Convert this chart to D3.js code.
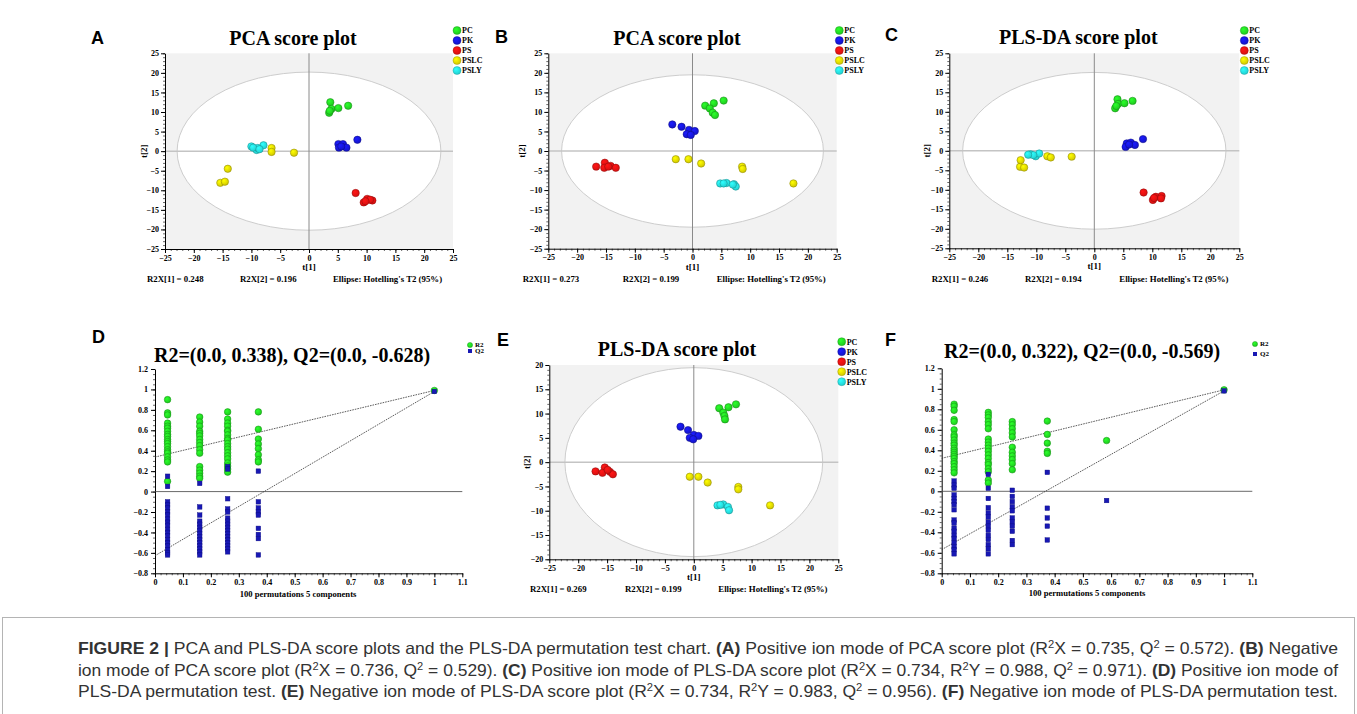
<!DOCTYPE html>
<html>
<head>
<meta charset="utf-8">
<script src="https://cdn.jsdelivr.net/npm/d3@7"></script>
<style>
  body { margin: 0; background: #fff; }
  svg { display: block; }
</style>
</head>
<body>
<svg id="fig" width="1357" height="714"></svg>
<script>
// ---- data ----
const groups = ["PC", "PK", "PS", "PSLC", "PSLY"];

// A: PCA, positive ion mode
const aPC   = [[3.7,12.5],[3.9,10.8],[5.1,11.0],[6.8,11.6],[3.5,9.8],[3.6,10.3]];
const aPK   = [[5.1,1.8],[5.2,0.9],[5.9,1.8],[6.5,0.9],[8.4,2.9],[5.6,1.2]];
const aPS   = [[8.1,-10.7],[9.5,-13.1],[10.1,-12.2],[11.0,-12.6],[10.6,-12.4],[9.8,-12.8]];
const aPSLC = [[-14.1,-4.5],[-15.4,-8.1],[-14.6,-7.8],[-6.5,0.8],[-6.5,-0.2],[-2.6,-0.4]];
const aPSLY = [[-10.0,1.2],[-9.1,0.3],[-7.9,1.5],[-8.9,0.8],[-9.7,0.9],[-8.6,0.5]];

// B: PCA, negative ion mode
const bPC   = [[2.2,11.6],[3.7,12.2],[5.4,12.9],[3.0,10.9],[3.5,9.8],[3.9,9.2]];
const bPK   = [[-3.5,6.8],[-1.9,6.2],[-0.6,5.4],[0.4,5.1],[-1.0,4.3],[-0.3,4.1]];
const bPS   = [[-16.7,-4.0],[-15.2,-3.0],[-15.3,-4.3],[-14.2,-3.8],[-13.3,-4.3],[-14.6,-4.0]];
const bPSLC = [[-2.9,-2.1],[-0.7,-2.1],[1.5,-3.2],[8.6,-4.0],[8.7,-4.6],[17.5,-8.3]];
const bPSLY = [[4.8,-8.3],[5.9,-8.2],[7.2,-8.5],[7.5,-9.1],[5.4,-8.3],[7.0,-8.6]];

// C: PLS-DA, positive ion mode
const cPC   = [[4.0,13.2],[3.6,10.9],[4.1,12.0],[5.2,12.2],[6.6,12.8],[3.8,11.5]];
const cPK   = [[5.6,1.9],[5.4,1.0],[6.3,2.1],[7.0,1.5],[8.4,3.0],[6.0,1.6]];
const cPS   = [[8.5,-10.7],[10.1,-12.6],[10.6,-11.8],[11.6,-11.6],[11.5,-12.2],[10.3,-12.1]];
const cPSLC = [[-12.8,-4.1],[-12.1,-4.3],[-12.7,-2.4],[-8.1,-1.4],[-7.5,-1.7],[-3.9,-1.5]];
const cPSLY = [[-11.0,-0.9],[-10.1,-1.4],[-9.5,-0.7],[-10.5,-1.1],[-11.4,-1.0]];

// E: PLS-DA, negative ion mode
const ePC   = [[4.4,11.1],[6.0,11.3],[7.3,11.9],[5.1,10.2],[5.3,9.5],[5.4,8.8]];
const ePK   = [[-2.3,7.3],[-1.0,6.6],[0.0,5.6],[0.8,5.4],[-0.7,5.0],[-0.1,4.7]];
const ePS   = [[-17.0,-1.9],[-15.4,-1.1],[-15.8,-2.2],[-14.5,-2.0],[-14.0,-2.5],[-14.9,-1.6]];
const ePSLC = [[-0.7,-3.0],[0.8,-3.0],[2.4,-4.2],[7.7,-5.1],[7.7,-5.6],[13.2,-8.9]];
const ePSLY = [[4.1,-8.9],[5.1,-8.7],[5.9,-9.2],[6.1,-9.9],[4.6,-8.8]];

// D: permutation test, positive ion mode
const dPermX = [0.045, 0.16, 0.26, 0.37];
const dR2 = [
  [0.9,0.77,0.75,0.67,0.64,0.62,0.59,0.56,0.54,0.51,0.49,0.47,0.44,0.41,0.39,0.375,0.34,0.31,0.29,0.1],
  [0.73,0.68,0.64,0.59,0.57,0.545,0.51,0.48,0.45,0.41,0.375,0.245,0.21,0.18,0.15,0.13],
  [0.78,0.71,0.67,0.64,0.6,0.59,0.555,0.52,0.505,0.47,0.44,0.415,0.38,0.35,0.32,0.28,0.25,0.22,0.19],
  [0.78,0.61,0.515,0.465,0.42,0.36,0.31,0.29]
];
const dQ2 = [
  [0.15,0.05,-0.1,-0.13,-0.16,-0.2,-0.23,-0.27,-0.3,-0.33,-0.37,-0.4,-0.43,-0.47,-0.5,-0.53,-0.57,-0.6,-0.62],
  [0.08,-0.15,-0.23,-0.29,-0.32,-0.35,-0.38,-0.41,-0.44,-0.47,-0.5,-0.53,-0.56,-0.59,-0.62],
  [0.245,0.22,-0.07,-0.17,-0.2,-0.26,-0.29,-0.32,-0.35,-0.38,-0.41,-0.44,-0.47,-0.5,-0.53,-0.56,-0.59],
  [0.2,-0.1,-0.16,-0.2,-0.23,-0.36,-0.42,-0.46,-0.62]
];
const dModel = { r2: 0.99, q2: 0.98, r2Int: 0.338, q2Int: -0.628 };

// F: permutation test, negative ion mode
const fPermX = [0.044, 0.165, 0.25, 0.374, 0.584];
const fR2 = [
  [0.85,0.83,0.79,0.7,0.68,0.6,0.55,0.53,0.5,0.47,0.45,0.42,0.4,0.38,0.36,0.34,0.32,0.29,0.27,0.24,0.21,0.18],
  [0.77,0.745,0.72,0.68,0.65,0.61,0.51,0.48,0.45,0.42,0.39,0.355,0.32,0.28,0.26,0.22,0.19,0.11,0.08],
  [0.68,0.65,0.61,0.57,0.53,0.43,0.38,0.345,0.31,0.27,0.21],
  [0.685,0.555,0.47,0.39,0.37],
  [0.495]
];
const fQ2 = [
  [0.1,0.06,0.03,-0.035,-0.07,-0.1,-0.13,-0.18,-0.28,-0.31,-0.36,-0.39,-0.43,-0.46,-0.5,-0.54,-0.57,-0.61],
  [0.165,0.03,-0.07,-0.16,-0.21,-0.25,-0.3,-0.34,-0.38,-0.43,-0.47,-0.52,-0.56,-0.61],
  [0.01,-0.05,-0.1,-0.15,-0.19,-0.26,-0.3,-0.34,-0.39,-0.48,-0.52],
  [0.185,-0.165,-0.26,-0.34,-0.475],
  [-0.09]
];
const fModel = { r2: 0.99, q2: 0.98, r2Int: 0.322, q2Int: -0.569 };

const scoreXTicks = d3.range(-25, 26, 5);
const permXTicks = d3.range(0, 1.101, 0.1).map(v => +v.toFixed(1));
const permYTicks = d3.range(-0.8, 1.201, 0.2).map(v => +v.toFixed(1));

// caption lines: [text, style]  n = normal, b = bold, s = superscript
const captionLines = [
  [["FIGURE 2 | ","b"],["PCA and PLS-DA score plots and the PLS-DA permutation test chart. ","n"],["(A)","b"],[" Positive ion mode of PCA score plot (R","n"],["2","s"],["X = 0.735, Q","n"],["2","s"],[" = 0.572). ","n"],["(B)","b"],[" Negative","n"]],
  [["ion mode of PCA score plot (R","n"],["2","s"],["X = 0.736, Q","n"],["2","s"],[" = 0.529). ","n"],["(C)","b"],[" Positive ion mode of PLS-DA score plot (R","n"],["2","s"],["X = 0.734, R","n"],["2","s"],["Y = 0.988, Q","n"],["2","s"],[" = 0.971). ","n"],["(D)","b"],[" Positive ion mode of","n"]],
  [["PLS-DA permutation test. ","n"],["(E)","b"],[" Negative ion mode of PLS-DA score plot (R","n"],["2","s"],["X = 0.734, R","n"],["2","s"],["Y = 0.983, Q","n"],["2","s"],[" = 0.956). ","n"],["(F)","b"],[" Negative ion mode of PLS-DA permutation test.","n"]]
];

// ---- drawing ----
const SERIF = "'Liberation Serif', 'Times New Roman', serif";
const SANS = "'Liberation Sans', Arial, sans-serif";
const groupColors = ["#1fca1f", "#1414c8", "#d81010", "#d2c800", "#22d0d0"];

const svg = d3.select("#fig");
const defs = svg.append("defs");
groupColors.forEach((c, i) => {
  const gr = defs.append("radialGradient").attr("id", "ball" + i)
    .attr("cx", "38%").attr("cy", "35%").attr("r", "65%");
  gr.append("stop").attr("offset", "0%").attr("stop-color", d3.color(c).brighter(0.9));
  gr.append("stop").attr("offset", "100%").attr("stop-color", c);
});

function styleAxis(sel, size) {
  sel.attr("font-family", SERIF).attr("font-weight", "bold").attr("font-size", size);
  sel.selectAll("text").attr("fill", "#000");
  sel.selectAll("line").attr("stroke", "#000");
  sel.select(".domain").attr("stroke", "#000");
}

function minorAxis(g, axis) {
  const m = g.append("g").call(axis);
  m.select(".domain").remove();
  m.selectAll("text").remove();
  m.selectAll("line").attr("stroke", "#000").attr("stroke-width", 0.6);
}

function scorePlot(p) {
  const g = svg.append("g");
  const x = d3.scaleLinear().domain([-25, 25]).range([p.left, p.right]);
  const y = d3.scaleLinear().domain(p.yDomain).range([p.bottom, p.top]);

  g.append("rect").attr("x", p.left).attr("y", p.top)
    .attr("width", p.right - p.left).attr("height", p.bottom - p.top)
    .attr("fill", "#f2f2f2");
  g.append("ellipse").attr("cx", x(0)).attr("cy", y(0))
    .attr("rx", x(p.ellipse[0]) - x(0)).attr("ry", y(0) - y(p.ellipse[1]))
    .attr("fill", "#fff").attr("stroke", "#cdcdcd").attr("stroke-width", 1);
  g.append("line").attr("x1", p.left).attr("x2", p.right).attr("y1", y(0)).attr("y2", y(0))
    .attr("stroke", "#c4c4c4").attr("stroke-width", 1.5);
  g.append("line").attr("x1", x(0)).attr("x2", x(0)).attr("y1", p.top).attr("y2", p.bottom)
    .attr("stroke", "#8a8a8a").attr("stroke-width", 1);

  const yTicks = d3.range(p.yDomain[0], p.yDomain[1] + 1, 5);
  minorAxis(g.append("g").attr("transform", `translate(${p.left},0)`),
    d3.axisLeft(y).tickValues(d3.range(p.yDomain[0], p.yDomain[1] + 1, 1)).tickSize(2).tickSizeOuter(0));
  minorAxis(g.append("g").attr("transform", `translate(0,${p.bottom})`),
    d3.axisBottom(x).tickValues(d3.range(-25, 26, 1)).tickSize(2).tickSizeOuter(0));
  g.append("g").attr("transform", `translate(${p.left},0)`)
    .call(d3.axisLeft(y).tickValues(yTicks).tickSize(4).tickSizeOuter(0).tickPadding(2))
    .call(s => styleAxis(s, 8));
  g.append("g").attr("transform", `translate(0,${p.bottom})`)
    .call(d3.axisBottom(x).tickValues(scoreXTicks).tickSize(4).tickSizeOuter(0).tickPadding(2))
    .call(s => styleAxis(s, 8));

  p.series.forEach((pts, i) => {
    g.selectAll(null).data(pts).join("circle")
      .attr("cx", d => x(d[0])).attr("cy", d => y(d[1])).attr("r", 3.7)
      .attr("fill", `url(#ball${i})`)
      .attr("stroke", d3.color(groupColors[i]).darker(1.2)).attr("stroke-width", 0.5);
  });

  const txt = (tx, ty, s, size, anchor, fam) => g.append("text")
    .attr("x", tx).attr("y", ty).attr("font-family", fam || SERIF).attr("font-weight", "bold")
    .attr("font-size", size).attr("text-anchor", anchor || "start").text(s);

  txt(p.titleX, p.titleY, p.title, 20, "middle");
  txt(p.letterX, p.letterY, p.letter, 18, "start", SANS);
  txt(x(0), p.bottom + 21, "t[1]", 9, "middle");
  g.append("text").attr("transform", `translate(${p.t2X},${y(0)}) rotate(-90)`)
    .attr("font-family", SERIF).attr("font-weight", "bold").attr("font-size", 9)
    .attr("text-anchor", "middle").text("t[2]");
  p.footer.forEach((f, i) => txt(p.footerX[i], p.footerY, f, 8.8));

  groups.forEach((name, i) => {
    const ly = p.legendY + i * 10;
    g.append("circle").attr("cx", p.legendX).attr("cy", ly).attr("r", 4)
      .attr("fill", `url(#ball${i})`).attr("stroke", d3.color(groupColors[i]).darker(1)).attr("stroke-width", 0.4);
    txt(p.legendX + 5, ly + 2.8, name, 8);
  });
}

function permPlot(p) {
  const g = svg.append("g");
  const x = d3.scaleLinear().domain([0, 1.1]).range([p.left, p.right]);
  const y = d3.scaleLinear().domain([-0.8, 1.2]).range([p.bottom, p.top]);
  const fmt = d3.format("~g");

  minorAxis(g.append("g").attr("transform", `translate(${p.left},0)`),
    d3.axisLeft(y).tickValues(d3.range(-0.8, 1.201, 0.05)).tickSize(2).tickSizeOuter(0));
  minorAxis(g.append("g").attr("transform", `translate(0,${p.bottom})`),
    d3.axisBottom(x).tickValues(d3.range(0, 1.101, 0.02)).tickSize(2).tickSizeOuter(0));
  g.append("g").attr("transform", `translate(${p.left},0)`)
    .call(d3.axisLeft(y).tickValues(permYTicks).tickFormat(fmt).tickSize(4).tickSizeOuter(0).tickPadding(3))
    .call(s => styleAxis(s, 8));
  g.append("g").attr("transform", `translate(0,${p.bottom})`)
    .call(d3.axisBottom(x).tickValues(permXTicks).tickFormat(fmt).tickSize(4).tickSizeOuter(0).tickPadding(2))
    .call(s => styleAxis(s, 8));

  g.append("line").attr("x1", x(0)).attr("x2", x(1.1)).attr("y1", y(0)).attr("y2", y(0))
    .attr("stroke", "#444").attr("stroke-width", 0.8);
  [[p.model.r2Int, p.model.r2], [p.model.q2Int, p.model.q2]].forEach(([a, b]) => {
    g.append("line").attr("x1", x(0)).attr("y1", y(a)).attr("x2", x(1)).attr("y2", y(b))
      .attr("stroke", "#333").attr("stroke-width", 0.8).attr("stroke-dasharray", "1.6,1");
  });

  const r2Pts = p.permX.flatMap((px, i) => p.r2[i].map(v => [px, v])).concat([[1, p.model.r2]]);
  const q2Pts = p.permX.flatMap((px, i) => p.q2[i].map(v => [px, v])).concat([[1, p.model.q2]]);
  g.selectAll(null).data(r2Pts).join("circle")
    .attr("cx", d => x(d[0])).attr("cy", d => y(d[1])).attr("r", 3.3)
    .attr("fill", "url(#ball0)").attr("stroke", "#158f15").attr("stroke-width", 0.5);
  g.selectAll(null).data(q2Pts).join("rect")
    .attr("x", d => x(d[0]) - 2.3).attr("y", d => y(d[1]) - 2.3).attr("width", 4.6).attr("height", 4.6)
    .attr("fill", "#1818b4").attr("stroke", "#0c0c80").attr("stroke-width", 0.4);

  const txt = (tx, ty, s, size, anchor, fam) => g.append("text")
    .attr("x", tx).attr("y", ty).attr("font-family", fam || SERIF).attr("font-weight", "bold")
    .attr("font-size", size).attr("text-anchor", anchor || "start").text(s);
  txt(p.titleX, p.titleY, p.title, 20, "middle");
  txt(p.letterX, p.letterY, p.letter, 18, "start", SANS);
  txt(p.xLabelX, p.xLabelY, "100 permutations 5 components", 8.6, "middle");

  g.append("circle").attr("cx", p.legendX).attr("cy", p.legendY[0]).attr("r", 2.6)
    .attr("fill", "url(#ball0)").attr("stroke", "#158f15").attr("stroke-width", 0.4);
  g.append("rect").attr("x", p.legendX - 2).attr("y", p.legendY[1] - 2).attr("width", 4).attr("height", 4)
    .attr("fill", "#1818b4");
  txt(p.legendX + 5, p.legendY[0] + 2.4, "R2", 7);
  txt(p.legendX + 5, p.legendY[1] + 2.4, "Q2", 7);
}

const footers = (a, b) => ["R2X[1] = " + a, "R2X[2] = " + b, "Ellipse: Hotelling's T2 (95%)"];

scorePlot({ left: 165, right: 453, top: 53.3, bottom: 249, yDomain: [-25, 25], ellipse: [22.9, 20.2],
  series: [aPC, aPK, aPS, aPSLC, aPSLY], title: "PCA score plot", titleX: 293, titleY: 45,
  letter: "A", letterX: 91, letterY: 44, t2X: 147, legendX: 457, legendY: 30.5,
  footer: footers("0.248", "0.196"), footerX: [147, 240, 333], footerY: 282 });

scorePlot({ left: 548.3, right: 836.7, top: 53.3, bottom: 248.7, yDomain: [-25, 25], ellipse: [22.7, 19.5],
  series: [bPC, bPK, bPS, bPSLC, bPSLY], title: "PCA score plot", titleX: 677, titleY: 45,
  letter: "B", letterX: 495, letterY: 43, t2X: 525, legendX: 839.3, legendY: 30.5,
  footer: footers("0.273", "0.199"), footerX: [522.7, 622.7, 716.7], footerY: 282 });

scorePlot({ left: 949.3, right: 1239.3, top: 53.3, bottom: 248.3, yDomain: [-25, 25], ellipse: [22.7, 20.1],
  series: [cPC, cPK, cPS, cPSLC, cPSLY], title: "PLS-DA score plot", titleX: 1078.3, titleY: 44,
  letter: "C", letterX: 885, letterY: 41, t2X: 930, legendX: 1244.3, legendY: 30.5,
  footer: footers("0.246", "0.194"), footerX: [931.7, 1025, 1119.3], footerY: 282 });

scorePlot({ left: 549.3, right: 838.3, top: 365, bottom: 559.3, yDomain: [-20, 20], ellipse: [22.3, 19.45],
  series: [ePC, ePK, ePS, ePSLC, ePSLY], title: "PLS-DA score plot", titleX: 677, titleY: 356,
  letter: "E", letterX: 497, letterY: 346, t2X: 530, legendX: 841.7, legendY: 341.7,
  footer: footers("0.269", "0.199"), footerX: [530, 625, 718.3], footerY: 592 });

permPlot({ left: 155, right: 462.3, top: 369, bottom: 573.3, permX: dPermX, r2: dR2, q2: dQ2, model: dModel,
  title: "R2=(0.0, 0.338), Q2=(0.0, -0.628)", titleX: 292, titleY: 361.7,
  letter: "D", letterX: 92, letterY: 343, xLabelX: 298, xLabelY: 597, legendX: 470, legendY: [345, 351] });

permPlot({ left: 941.7, right: 1252.3, top: 368.3, bottom: 573.3, permX: fPermX, r2: fR2, q2: fQ2, model: fModel,
  title: "R2=(0.0, 0.322), Q2=(0.0, -0.569)", titleX: 1082, titleY: 358,
  letter: "F", letterX: 885, letterY: 346, xLabelX: 1087, xLabelY: 596, legendX: 1255, legendY: [344, 354] });

// caption, in a thin frame
svg.append("rect").attr("x", 2.5).attr("y", 617.5).attr("width", 1352).attr("height", 110)
  .attr("fill", "none").attr("stroke", "#b4b4b4").attr("stroke-width", 1);
const capLeft = 78, capRight = 1338, capY = [654, 675.5, 697];
captionLines.forEach((segs, li) => {
  const t = svg.append("text").attr("x", capLeft).attr("y", capY[li])
    .attr("font-family", SANS).attr("font-size", 16.5).attr("fill", "#333")
    .attr("textLength", capRight - capLeft).attr("lengthAdjust", "spacingAndGlyphs");
  segs.forEach(([s, st]) => {
    const ts = t.append("tspan").text(s);
    if (st === "b") ts.attr("font-weight", "bold");
    if (st === "s") ts.attr("font-size", 10.5).attr("baseline-shift", "super");
  });
});
</script>
</body>
</html>
